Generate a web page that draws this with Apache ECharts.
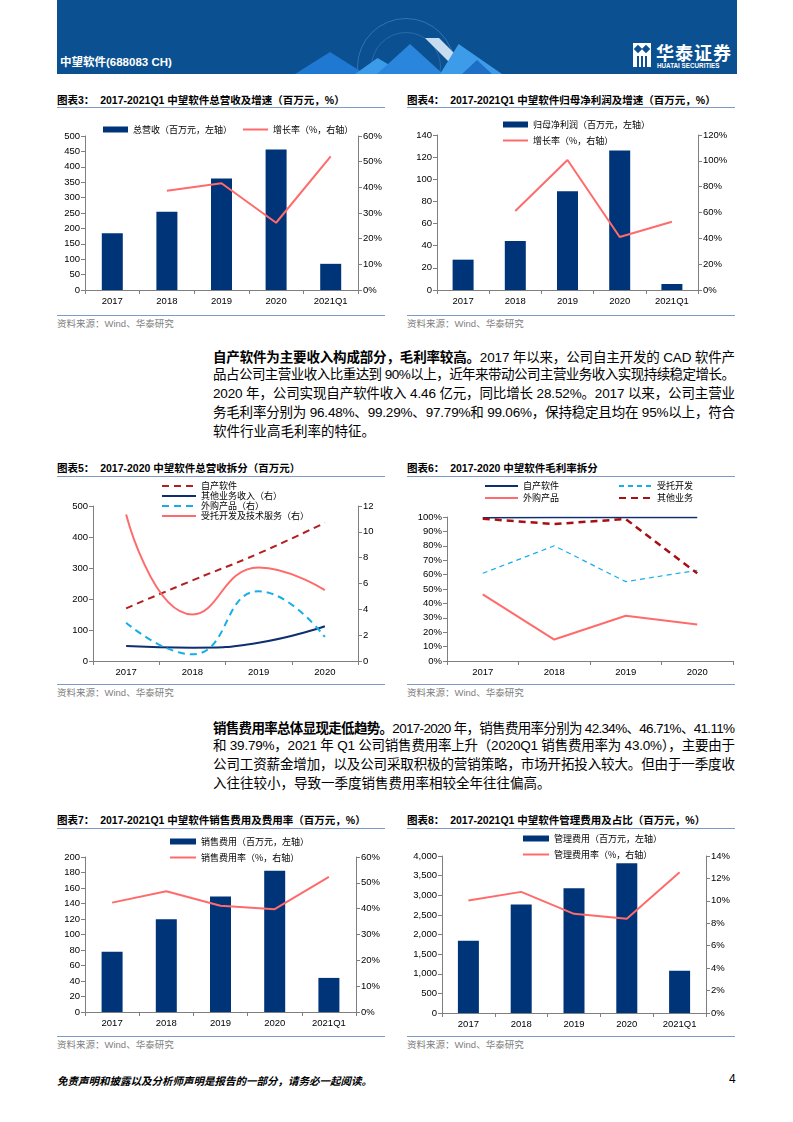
<!DOCTYPE html>
<html><head><meta charset="utf-8">
<script src="https://cdn.jsdelivr.net/npm/echarts@6/dist/echarts.min.js"></script>
<style>
body{margin:0;background:#fff;width:793px;height:1122px;position:relative;overflow:hidden;font-family:"Liberation Sans",Arial,"Noto Sans CJK SC",sans-serif;}
.title{position:absolute;font-size:10.5px;font-weight:bold;color:#000;white-space:nowrap;line-height:12px;font-family:"Liberation Sans",Arial,"Noto Sans CJK SC",sans-serif;}
.rule{position:absolute;height:1px;background:#7E9BC6;}
.src{position:absolute;font-size:9.5px;color:#7f7f7f;white-space:nowrap;line-height:11px;font-family:"Liberation Sans",Arial,"Noto Sans CJK SC",sans-serif;}
.chart{position:absolute;width:345px;height:205px;}
.ln{position:absolute;left:213px;white-space:nowrap;font-size:13.5px;line-height:16px;color:#000;font-family:"Liberation Sans",Arial,"Noto Sans CJK SC",sans-serif;}
.ln b{font-weight:bold;font-family:"Noto Sans CJK SC",sans-serif;}
#header{position:absolute;left:57px;top:0;width:680px;height:74px;background:#0B5091;overflow:hidden;}
.tri{position:absolute;}
</style></head>
<body>
<div id="header">
  <div class="tri" style="left:300px;top:18px;width:96px;height:96px;border-radius:50%;border:1px solid rgba(140,200,255,0.30);"></div>
  <div class="tri" style="left:314px;top:32px;width:68px;height:68px;border-radius:50%;border:1px solid rgba(140,200,255,0.22);"></div>
  <div class="tri" style="left:238px;top:52px;width:70px;height:22px;background:#1F78D2;clip-path:polygon(50% 0,100% 100%,0 100%);"></div>
  <div class="tri" style="left:298px;top:58px;width:50px;height:16px;background:#3C9BE8;clip-path:polygon(45% 0,100% 100%,0 100%);"></div>
  <div class="tri" style="left:320px;top:44px;width:66px;height:30px;background:#2A86DC;clip-path:polygon(50% 0,100% 100%,0 100%);"></div>
  <div class="tri" style="left:368px;top:38px;width:50px;height:36px;background:#C8DCF0;clip-path:polygon(0 0,28% 0,100% 100%,72% 100%);"></div>
  <div class="tri" style="left:383px;top:44px;width:62px;height:30px;background:#3D9CE9;clip-path:polygon(30% 0,100% 100%,0 100%);"></div>
  <div class="tri" style="left:405px;top:60px;width:30px;height:14px;background:#1C6FC4;clip-path:polygon(50% 0,100% 100%,0 100%);"></div>
  <div style="position:absolute;left:3px;top:53px;color:#fff;font-weight:bold;font-size:11.5px;white-space:nowrap;font-family:'Liberation Sans',Arial,'Noto Sans CJK SC',sans-serif;">中望软件(688083 CH)</div>
  <div style="position:absolute;left:576px;top:43px;width:18px;height:24px;background:#fff;">
    <div style="position:absolute;left:2px;top:3px;width:6px;height:6px;background:#0B5091;transform:rotate(45deg);"></div>
    <div style="position:absolute;left:10px;top:3px;width:6px;height:6px;background:#0B5091;transform:rotate(45deg);"></div>
    <div style="position:absolute;left:4px;top:13px;width:2px;height:11px;background:#0B5091;"></div>
    <div style="position:absolute;left:8px;top:13px;width:2px;height:11px;background:#0B5091;"></div>
    <div style="position:absolute;left:12px;top:13px;width:2px;height:11px;background:#0B5091;"></div>
  </div>
  <div style="position:absolute;left:599px;top:41px;color:#fff;font-size:18px;font-weight:bold;letter-spacing:1px;line-height:22px;white-space:nowrap;font-family:'Noto Sans CJK SC',sans-serif;">华泰证券</div>
  <div style="position:absolute;left:600px;top:62px;color:#fff;font-size:6.3px;font-weight:bold;line-height:7px;white-space:nowrap;">HUATAI SECURITIES</div>
</div>

<!-- chart titles, rules, sources -->
<div class="title" style="left:57px;top:94px;">图表3：&nbsp;&nbsp;2017-2021Q1 中望软件总营收及增速（百万元，%）</div>
<div class="rule" style="left:57px;top:107px;width:328px;"></div>
<div class="rule" style="left:57px;top:315px;width:328px;"></div>
<div class="src" style="left:57px;top:318px;">资料来源：Wind、华泰研究</div>

<div class="title" style="left:407px;top:94px;">图表4：&nbsp;&nbsp;2017-2021Q1 中望软件归母净利润及增速（百万元，%）</div>
<div class="rule" style="left:407px;top:107px;width:328px;"></div>
<div class="rule" style="left:407px;top:315px;width:328px;"></div>
<div class="src" style="left:407px;top:318px;">资料来源：Wind、华泰研究</div>

<div class="title" style="left:57px;top:462px;">图表5：&nbsp;&nbsp;2017-2020 中望软件总营收拆分（百万元）</div>
<div class="rule" style="left:57px;top:476px;width:328px;"></div>
<div class="rule" style="left:57px;top:684px;width:328px;"></div>
<div class="src" style="left:57px;top:687px;">资料来源：Wind、华泰研究</div>

<div class="title" style="left:407px;top:462px;">图表6：&nbsp;&nbsp;2017-2020 中望软件毛利率拆分</div>
<div class="rule" style="left:407px;top:476px;width:328px;"></div>
<div class="rule" style="left:407px;top:684px;width:328px;"></div>
<div class="src" style="left:407px;top:687px;">资料来源：Wind、华泰研究</div>

<div class="title" style="left:57px;top:814px;">图表7：&nbsp;&nbsp;2017-2021Q1 中望软件销售费用及费用率（百万元，%）</div>
<div class="rule" style="left:57px;top:828px;width:328px;"></div>
<div class="rule" style="left:57px;top:1036px;width:328px;"></div>
<div class="src" style="left:57px;top:1039px;">资料来源：Wind、华泰研究</div>

<div class="title" style="left:407px;top:814px;">图表8：&nbsp;&nbsp;2017-2021Q1 中望软件管理费用及占比（百万元，%）</div>
<div class="rule" style="left:407px;top:828px;width:328px;"></div>
<div class="rule" style="left:407px;top:1036px;width:328px;"></div>
<div class="src" style="left:407px;top:1039px;">资料来源：Wind、华泰研究</div>

<!-- paragraphs -->
<div class="ln j" style="top:348px;"><b>自产软件为主要收入构成部分，毛利率较高。</b>2017 年以来，公司自主开发的 CAD 软件产</div>
<div class="ln j" style="top:367px;">品占公司主营业收入比重达到 90%以上，近年来带动公司主营业务收入实现持续稳定增长。</div>
<div class="ln j" style="top:386px;">2020 年，公司实现自产软件收入 4.46 亿元，同比增长 28.52%。2017 以来，公司主营业</div>
<div class="ln j" style="top:405px;">务毛利率分别为 96.48%、99.29%、97.79%和 99.06%，保持稳定且均在 95%以上，符合</div>
<div class="ln" style="top:424px;">软件行业高毛利率的特征。</div>

<div class="ln j" style="top:719px;"><b>销售费用率总体显现走低趋势。</b>2017-2020 年，销售费用率分别为 42.34%、46.71%、41.11%</div>
<div class="ln j" style="top:738px;">和 39.79%，2021 年 Q1 公司销售费用率上升（2020Q1 销售费用率为 43.0%），主要由于</div>
<div class="ln j" style="top:757px;">公司工资薪金增加，以及公司采取积极的营销策略，市场开拓投入较大。但由于一季度收</div>
<div class="ln" style="top:776px;">入往往较小，导致一季度销售费用率相较全年往往偏高。</div>

<div style="position:absolute;left:57px;top:1073px;font-size:10.5px;font-style:italic;font-weight:bold;color:#000;white-space:nowrap;font-family:'Noto Sans CJK SC',sans-serif;">免责声明和披露以及分析师声明是报告的一部分，请务必一起阅读。</div>
<div style="position:absolute;left:729px;top:1072px;font-size:12px;color:#000;">4</div>

<div id="c3" class="chart" style="left:50px;top:110px;"></div>
<div id="c4" class="chart" style="left:400px;top:110px;"></div>
<div id="c5" class="chart" style="left:50px;top:478px;"></div>
<div id="c6" class="chart" style="left:400px;top:478px;"></div>
<div id="c7" class="chart" style="left:50px;top:830px;"></div>
<div id="c8" class="chart" style="left:400px;top:830px;"></div>

<script>
// ---------- data ----------
const years5 = ['2017', '2018', '2019', '2020', '2021Q1'];
const years4 = ['2017', '2018', '2019', '2020'];

const revenue = [184, 254, 362, 456, 85];
const revenueGrowth = [null, 38.7, 41.6, 26.2, 52.1];

const netProfit = [27.4, 44.3, 89.2, 125.9, 5.4];
const netProfitGrowth = [null, 61.2, 100.6, 41.0, 52.9];

const selfSoftware = [170, 260, 347, 446];
const otherBusiness = [1.16, 1.03, 1.42, 2.69];
const purchasedProducts = [2.97, 0.52, 5.4, 1.86];
const entrustedDev = [11.35, 3.6, 7.24, 5.48];

const gmSelfSoftware = [99.5, 99.7, 99.6, 99.6];
const gmEntrusted = [60.9, 80.0, 55.1, 63.0];
const gmPurchased = [46.3, 14.9, 31.4, 25.3];
const gmOther = [98.8, 95.1, 98.6, 60.9];

const salesExpense = [77.8, 119.7, 149, 182.3, 44];
const salesExpenseRate = [42.34, 46.71, 41.11, 39.79, 52.3];

const adminExpense = [1839, 2763, 3178, 3814, 1076];
const adminExpenseRate = [10.03, 10.8, 8.84, 8.4, 12.55];

// ---------- styles ----------
const NAVY = '#003478';
const SALMON = '#FF6B6B';
const DARKRED = '#B41E1E';
const SKY = '#16AEEA';
const LATIN = 'Liberation Sans, Arial, sans-serif';
const CJK = 'Noto Sans CJK SC, sans-serif';
const AX = '#7F7F7F';
const HIDE_SYMBOL = {opacity: 0};

function lineItem(name) { return {name: name, itemStyle: HIDE_SYMBOL}; }

function catAxis(data) {
  return {
    type: 'category', data: data, boundaryGap: true,
    axisLine: {show: true, lineStyle: {color: AX, width: 1}},
    axisTick: {show: true, alignWithLabel: false, length: 4, lineStyle: {color: AX}},
    axisLabel: {fontSize: 9.5, color: '#000', fontFamily: LATIN, margin: 6},
    splitLine: {show: false}
  };
}
function valAxis(min, max, interval, fmt, pos) {
  return {
    type: 'value', min: min, max: max, interval: interval, position: pos || 'left',
    axisLine: {show: true, lineStyle: {color: AX, width: 1}},
    axisTick: {show: true, length: 4, lineStyle: {color: AX}},
    axisLabel: {fontSize: 9.5, color: '#000', fontFamily: LATIN, margin: 5, formatter: fmt},
    splitLine: {show: false}
  };
}
const legendText = {fontSize: 9, color: '#000', fontFamily: CJK, lineHeight: 11};

function barLine(el, cfg) {
  const chart = echarts.init(document.getElementById(el), null, {renderer: 'canvas'});
  chart.setOption({
    animation: false,
    grid: cfg.grid,
    legend: cfg.legend,
    xAxis: catAxis(years5),
    yAxis: [cfg.y0, cfg.y1],
    series: [
      {type: 'bar', name: cfg.barName, data: cfg.bar, barWidth: 21, itemStyle: {color: NAVY}},
      {type: 'line', name: cfg.lineName, data: cfg.line, yAxisIndex: 1, symbol: 'none',
       lineStyle: {color: SALMON, width: 2}, itemStyle: {color: SALMON}}
    ]
  });
}

// 图表3
barLine('c3', {
  grid: {left: 35, top: 26, width: 273, height: 154},
  legend: {left: 48, top: 9, orient: 'horizontal', itemWidth: 25, itemHeight: 6, itemGap: 10, textStyle: legendText,
    data: [{name: '总营收（百万元，左轴）', icon: 'rect'}, lineItem('增长率（%，右轴）')]},
  y0: valAxis(0, 500, 50),
  y1: valAxis(0, 60, 10, '{value}%', 'right'),
  barName: '总营收（百万元，左轴）', bar: revenue,
  lineName: '增长率（%，右轴）', line: revenueGrowth
});

// 图表4
barLine('c4', {
  grid: {left: 37, top: 25, width: 261, height: 155},
  legend: {left: 97, top: 4, orient: 'vertical', itemWidth: 25, itemHeight: 6, itemGap: 5, textStyle: legendText,
    data: [{name: '归母净利润（百万元，左轴）', icon: 'rect'}, lineItem('增长率（%，右轴）')]},
  y0: valAxis(0, 140, 20),
  y1: valAxis(0, 120, 20, '{value}%', 'right'),
  barName: '归母净利润（百万元，左轴）', bar: netProfit,
  lineName: '增长率（%，右轴）', line: netProfitGrowth
});

// 图表7
barLine('c7', {
  grid: {left: 35, top: 27, width: 271, height: 155},
  legend: {left: 114, top: 1, orient: 'vertical', itemWidth: 26, itemHeight: 6, itemGap: 5, textStyle: legendText,
    data: [{name: '销售费用（百万元，左轴）', icon: 'rect'}, lineItem('销售费用率（%，右轴）')]},
  y0: valAxis(0, 200, 20),
  y1: valAxis(0, 60, 10, '{value}%', 'right'),
  barName: '销售费用（百万元，左轴）', bar: salesExpense,
  lineName: '销售费用率（%，右轴）', line: salesExpenseRate
});

// 图表8
barLine('c8', {
  grid: {left: 42, top: 26, width: 264, height: 157},
  legend: {left: 117, top: -2, orient: 'vertical', itemWidth: 26, itemHeight: 6, itemGap: 5, textStyle: legendText,
    data: [{name: '管理费用（百万元，左轴）', icon: 'rect'}, lineItem('管理费用率（%，右轴）')]},
  y0: valAxis(0, 4000, 500, function (v) { return v.toLocaleString('en-US'); }),
  y1: valAxis(0, 14, 2, '{value}%', 'right'),
  barName: '管理费用（百万元，左轴）', bar: adminExpense,
  lineName: '管理费用率（%，右轴）', line: adminExpenseRate
});

// 图表5
(function () {
  const chart = echarts.init(document.getElementById('c5'));
  chart.setOption({
    animation: false,
    grid: {left: 43, top: 28, width: 265, height: 155},
    legend: {left: 106, top: -2, orient: 'vertical', itemWidth: 34, itemHeight: 8, itemGap: 0,
      textStyle: {fontSize: 9, color: '#000', fontFamily: CJK, lineHeight: 10},
      data: [lineItem('自产软件'), lineItem('其他业务收入（右）'), lineItem('外购产品（右）'), lineItem('受托开发及技术服务（右）')]},
    xAxis: catAxis(years4),
    yAxis: [valAxis(0, 500, 100), valAxis(0, 12, 2, null, 'right')],
    series: [
      {type: 'line', name: '自产软件', data: selfSoftware, smooth: true, symbol: 'none',
       lineStyle: {color: DARKRED, width: 2, type: [7, 5]}, itemStyle: {color: DARKRED}},
      {type: 'line', name: '其他业务收入（右）', data: otherBusiness, yAxisIndex: 1, smooth: true, symbol: 'none',
       lineStyle: {color: '#0E2F6E', width: 2}, itemStyle: {color: '#0E2F6E'}},
      {type: 'line', name: '外购产品（右）', data: purchasedProducts, yAxisIndex: 1, smooth: true, symbol: 'none',
       lineStyle: {color: SKY, width: 2, type: [7, 5]}, itemStyle: {color: SKY}},
      {type: 'line', name: '受托开发及技术服务（右）', data: entrustedDev, yAxisIndex: 1, smooth: true, symbol: 'none',
       lineStyle: {color: SALMON, width: 2}, itemStyle: {color: SALMON}}
    ]
  });
})();

// 图表6
(function () {
  const chart = echarts.init(document.getElementById('c6'));
  const lt = {fontSize: 9, color: '#000', fontFamily: CJK, lineHeight: 12};
  chart.setOption({
    animation: false,
    grid: {left: 47, top: 39, width: 286, height: 144},
    legend: [
      {left: 79, top: -3, orient: 'vertical', itemWidth: 33, itemHeight: 8, itemGap: 0, textStyle: lt,
       data: [lineItem('自产软件'), lineItem('外购产品')]},
      {left: 213, top: -3, orient: 'vertical', itemWidth: 33, itemHeight: 8, itemGap: 0, textStyle: lt,
       data: [lineItem('受托开发'), lineItem('其他业务')]}
    ],
    xAxis: catAxis(years4),
    yAxis: valAxis(0, 100, 10, '{value}%'),
    series: [
      {type: 'line', name: '自产软件', data: gmSelfSoftware, symbol: 'none',
       lineStyle: {color: '#0E2F6E', width: 1.5}, itemStyle: {color: '#0E2F6E'}},
      {type: 'line', name: '受托开发', data: gmEntrusted, symbol: 'none',
       lineStyle: {color: SKY, width: 1.2, type: [5, 4]}, itemStyle: {color: SKY}},
      {type: 'line', name: '外购产品', data: gmPurchased, symbol: 'none',
       lineStyle: {color: SALMON, width: 2}, itemStyle: {color: SALMON}},
      {type: 'line', name: '其他业务', data: gmOther, symbol: 'none',
       lineStyle: {color: '#A80F14', width: 2.5, type: [7, 5]}, itemStyle: {color: '#A80F14'}}
    ]
  });
})();

// justify paragraph lines to the text block width
(function () {
  const target = 522;
  document.querySelectorAll('.ln.j').forEach(function (el) {
    const w = el.getBoundingClientRect().width;
    const n = el.textContent.length;
    const ls = (target - w) / (n - 1);
    el.style.letterSpacing = ls + 'px';
  });
})();
</script>
</body></html>
